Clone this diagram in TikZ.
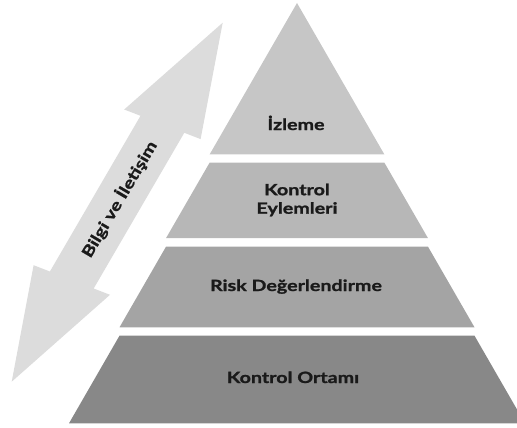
\documentclass[tikz,border=0pt]{standalone}
\usepackage{fontspec}
\setmainfont{Lato}[FakeStretch=1.27, BoldFeatures={FakeBold=1.3}]
\begin{document}
\begin{tikzpicture}[x=1pt,y=-1pt,
  lbl/.style={font=\fontsize{15.5}{18.5}\selectfont\bfseries, text=txt, inner sep=0pt, align=center},
  piece/.style={fill=#1, draw=none}]
\definecolor{txt}{HTML}{1A1A1A}
\definecolor{lone}{HTML}{C6C6C6}
\definecolor{ltwo}{HTML}{B7B7B7}
\definecolor{lthree}{HTML}{A4A4A4}
\definecolor{lfour}{HTML}{888888}
\definecolor{arr}{HTML}{DCDCDC}
\useasboundingbox (0,0) rectangle (517,428);
\clip (0,0) rectangle (517,428);
% pyramid
\fill[piece=lone]   (297,3) -- (384.3,154.3) -- (209.7,154.3) -- cycle;
\fill[piece=ltwo]   (209.7,162.5) -- (384.3,162.5) -- (427.9,238) -- (166.1,238) -- cycle;
\fill[piece=lthree] (166.1,246.5) -- (427.9,246.5) -- (474.5,327.3) -- (119.5,327.3) -- cycle;
\fill[piece=lfour]  (119.5,335.7) -- (474.5,335.7) -- (525,423.3) -- (69,423.3) -- cycle;
% double arrow
\fill[arr] (222.7,22.7) -- (200.6,139.1) -- (184.3,132.8) -- (93.7,288.5) -- (110,294.8)
  -- (11.7,381.7) -- (33.6,265.2) -- (49.9,271.5) -- (140.5,115.8) -- (124.2,109.5) -- cycle;
% labels
\node[lbl, anchor=base] (izleme) at (296,130) {İzleme};
\node[lbl] (eylem) at (297,200) {Kontrol\\Eylemleri};
\node[lbl, anchor=base] (risk) at (296,291) {Risk Değerlendirme};
\node[lbl, anchor=base] (ortam) at (293,383) {Kontrol Ortamı};
\node[lbl, rotate=59.5] (bilgi) at (119,199) {Bilgi ve İletişim};
\end{tikzpicture}
\end{document}
